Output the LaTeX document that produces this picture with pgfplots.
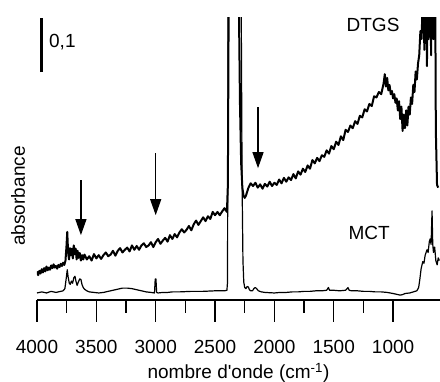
\documentclass[border=0pt]{standalone}
\usepackage{fontspec}
\setmainfont{Liberation Sans}
\usepackage{pgfplots}
\pgfplotsset{compat=1.18}
\usetikzlibrary{arrows.meta}

% spectra, absorbance offset so that the MCT baseline sits at 0
\pgfplotstableread{
wn A
4000 .040
3990 .033
3980 .041
3970 .036
3960 .044
3950 .038
3940 .046
3930 .040
3920 .049
3910 .042
3900 .047
3890 .043
3880 .051
3870 .046
3860 .053
3850 .047
3840 .050
3830 .045
3820 .052
3810 .048
3800 .054
3790 .050
3780 .056
3770 .052
3760 .060
3752 .085
3745 .113
3738 .075
3730 .062
3722 .083
3714 .070
3706 .082
3698 .064
3690 .088
3682 .072
3674 .082
3666 .062
3658 .078
3650 .065
3640 .074
3630 .060
3620 .070
3610 .062
3600 .071
3580 .062
3560 .068
3540 .060
3520 .072
3500 .064
3480 .070
3460 .063
3440 .070
3420 .075
3400 .068
3380 .071
3360 .078
3340 .069
3320 .078
3300 .083
3280 .075
3260 .080
3240 .084
3220 .077
3200 .088
3180 .080
3160 .087
3140 .080
3120 .088
3100 .092
3080 .085
3060 .088
3040 .094
3020 .085
3000 .094
2980 .100
2960 .091
2940 .097
2920 .102
2900 .095
2880 .107
2860 .100
2840 .109
2820 .103
2800 .112
2780 .118
2760 .112
2740 .117
2720 .124
2700 .116
2680 .127
2660 .134
2640 .126
2620 .133
2600 .140
2580 .133
2560 .142
2540 .137
2520 .150
2500 .144
2480 .150
2460 .144
2440 .151
2420 .157
2400 .150
2392 .200
2385 .550
2300 .550
2290 .350
2280 .240
2270 .195
2260 .180
2250 .176
2240 .180
2220 .194
2200 .203
2180 .198
2160 .204
2140 .195
2120 .201
2100 .193
2080 .202
2060 .197
2040 .206
2020 .198
2000 .204
1980 .200
1960 .210
1940 .203
1920 .213
1900 .206
1880 .214
1860 .209
1840 .220
1820 .212
1800 .225
1780 .219
1760 .230
1740 .224
1720 .236
1700 .230
1680 .246
1660 .240
1640 .250
1620 .244
1600 .255
1580 .252
1560 .264
1540 .258
1520 .272
1500 .266
1480 .280
1460 .274
1440 .290
1420 .283
1400 .302
1380 .298
1360 .310
1340 .305
1320 .318
1300 .313
1280 .328
1260 .325
1240 .340
1220 .336
1200 .350
1180 .346
1160 .364
1140 .362
1120 .372
1100 .368
1080 .388
1070 .405
1060 .382
1050 .398
1040 .375
1030 .385
1020 .368
1010 .374
1000 .360
990 .368
980 .352
970 .360
960 .338
950 .355
940 .322
930 .345
920 .300
910 .330
900 .305
890 .338
880 .310
870 .345
860 .330
850 .362
840 .350
830 .385
820 .372
810 .410
800 .395
790 .425
780 .440
770 .485
760 .470
750 .550
742 .550
737 .450
732 .550
720 .550
715 .420
710 .550
702 .470
697 .550
685 .550
680 .440
675 .550
665 .550
660 .470
655 .550
645 .550
640 .300
630 .200
620 .195
}\dtgs

\pgfplotstableread{
wn A
4000 .000
3960 .002
3920 .000
3880 .003
3840 .001
3800 .003
3780 .004
3765 .008
3752 .030
3745 .043
3738 .030
3728 .018
3720 .016
3710 .022
3700 .018
3690 .028
3680 .031
3672 .022
3662 .014
3652 .020
3640 .026
3630 .025
3620 .015
3610 .010
3600 .007
3580 .004
3560 .002
3520 .001
3480 .000
3440 .001
3400 .003
3360 .005
3320 .007
3280 .009
3240 .009
3200 .008
3160 .006
3120 .004
3080 .002
3040 .001
3010 .000
3004 .026
2998 .026
2992 .001
2980 .000
2940 .001
2900 .001
2860 .002
2800 .002
2700 .003
2600 .003
2500 .004
2420 .004
2400 .005
2395 .020
2390 .550
2280 .550
2272 .200
2265 .060
2258 .020
2250 .010
2240 .008
2230 .012
2220 .011
2210 .006
2200 .004
2185 .004
2170 .009
2160 .010
2150 .008
2135 .004
2110 .002
2080 .001
2000 .000
1950 .001
1900 .001
1850 .002
1800 .002
1750 .003
1700 .003
1650 .004
1600 .004
1560 .005
1545 .010
1535 .005
1500 .005
1450 .004
1400 .005
1380 .010
1370 .005
1350 .004
1300 .004
1250 .003
1200 .003
1150 .002
1100 .002
1050 .001
1000 -.001
960 -.003
940 -.004
920 -.003
900 -.001
860 .000
830 .002
800 .004
785 .010
775 .025
764 .045
750 .058
740 .055
730 .070
714 .080
705 .075
695 .095
688 .100
680 .090
672 .152
666 .090
660 .075
650 .085
640 .060
629 .052
620 .065
610 .060
}\mct

\begin{document}
\begin{tikzpicture}[font=\fontsize{19}{22}\selectfont]
\begin{axis}[
    scale only axis,
    width=403pt, height=282pt,
    x dir=reverse,
    xmin=605, xmax=4000,
    ymin=-0.013, ymax=0.509,
    axis x line*=bottom,
    axis y line=none,
    axis line style={line width=1.3pt},
    xtick={1000,1500,2000,2500,3000,3500,4000},
    minor x tick num=1,
    ytick=\empty,
    tick align=outside,
    major tick length=22pt,
    minor tick length=13pt,
    every tick/.style={black, line width=1.3pt},
    /pgf/number format/1000 sep={},
    /pgf/number format/assume math mode=true,
    xticklabel style={anchor=north, yshift=-15pt},
    xlabel={nombre d\textquotesingle onde (cm\textsuperscript{-1})},
    xlabel style={at={(axis description cs:0.5,0)}, anchor=base, yshift=-79pt},
]
\addplot[black, line width=2pt, line join=round] table[x=wn, y=A] {\dtgs};
\addplot[black, line width=1.2pt, line join=round] table[x=wn, y=A] {\mct};

% scale bar
\draw[line width=3pt] (axis cs:3966,0.409) -- (axis cs:3966,0.509);
\node[anchor=west, inner sep=0pt] at (axis cs:3899,0.465) {0,1};

\node at (axis cs:1169,0.496) {DTGS};
\node at (axis cs:1202,0.111) {MCT};

% arrows
\draw[line width=1.2pt, -{Triangle[width=11pt,length=16pt]}] (axis cs:3630,0.209) -- (axis cs:3630,0.107);
\draw[line width=1.2pt, -{Triangle[width=11pt,length=16pt]}] (axis cs:3000,0.259) -- (axis cs:3000,0.144);
\draw[line width=1.2pt, -{Triangle[width=11pt,length=16pt]}] (axis cs:2138,0.344) -- (axis cs:2138,0.231);
\end{axis}
% y label, outside the clipped axis area
\node[rotate=90, anchor=base] at (-12pt,104pt) {absorbance};
\pgfresetboundingbox
\path (-37pt,-82pt) rectangle (403pt,300pt);
\end{tikzpicture}
\end{document}
